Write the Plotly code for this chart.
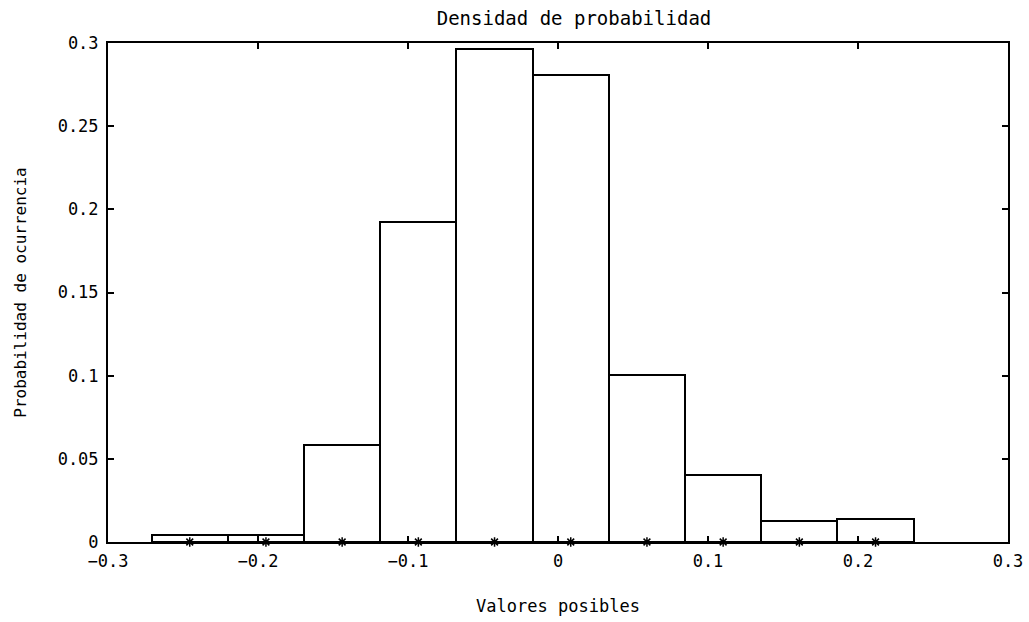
import plotly.graph_objects as go

# Histogram: bin centres, common bin width and relative frequency per bin
bin_centers = [-0.2455, -0.1947, -0.1439, -0.0931, -0.0423, 0.0085, 0.0593, 0.1101, 0.1609, 0.2117]
bin_width = 0.0508
probabilities = [0.0042, 0.0042, 0.0586, 0.1921, 0.2966, 0.2809, 0.1007, 0.0400, 0.0125, 0.0137]

x_ticks = [-0.3, -0.2, -0.1, 0, 0.1, 0.2, 0.3]
x_tick_text = ["\u22120.3", "\u22120.2", "\u22120.1", "0", "0.1", "0.2", "0.3"]
y_ticks = [0, 0.05, 0.1, 0.15, 0.2, 0.25, 0.3]
y_tick_text = ["0", "0.05", "0.1", "0.15", "0.2", "0.25", "0.3"]

font = dict(family="DejaVu Sans Mono", size=16, color="black")

fig = go.Figure()
fig.add_trace(go.Bar(
    x=bin_centers,
    y=probabilities,
    width=bin_width,
    marker=dict(color="white", line=dict(color="black", width=2)),
    showlegend=False,
    hoverinfo="x+y",
))
# bin-centre markers along the baseline
fig.add_trace(go.Scatter(
    x=bin_centers,
    y=[0] * len(bin_centers),
    mode="markers",
    marker=dict(symbol="asterisk-open", size=8, color="black",
                line=dict(color="black", width=1.5)),
    cliponaxis=False,
    showlegend=False,
    hoverinfo="skip",
))

fig.update_layout(
    width=1029,
    height=622,
    margin=dict(l=108, r=21, t=43, b=80),
    paper_bgcolor="white",
    plot_bgcolor="white",
    font=font,
    bargap=0,
    title=dict(text="Densidad de probabilidad", x=574 / 1029, xanchor="center",
               y=1 - 18 / 622, yanchor="middle", font=dict(size=19)),
)
fig.update_xaxes(
    range=[-0.3, 0.3],
    tickvals=x_ticks,
    ticktext=x_tick_text,
    tickfont=dict(size=17),
    ticklabelstandoff=3,
    ticks="inside",
    ticklen=6,
    tickwidth=1.5,
    tickcolor="black",
    showline=True,
    linecolor="black",
    linewidth=2,
    mirror="ticks",
    showgrid=False,
    zeroline=False,
    automargin=False,
    title=dict(text="Valores posibles", standoff=30, font=dict(size=17)),
)
fig.update_yaxes(
    range=[0, 0.3],
    tickvals=y_ticks,
    ticktext=y_tick_text,
    tickfont=dict(size=17),
    ticklabelstandoff=4,
    ticks="inside",
    ticklen=6,
    tickwidth=1.5,
    tickcolor="black",
    showline=True,
    linecolor="black",
    linewidth=2,
    mirror="ticks",
    showgrid=False,
    zeroline=False,
    automargin=False,
    title=dict(text="Probabilidad de ocurrencia", standoff=27, font=dict(size=16)),
)

fig.write_html("out.html")
